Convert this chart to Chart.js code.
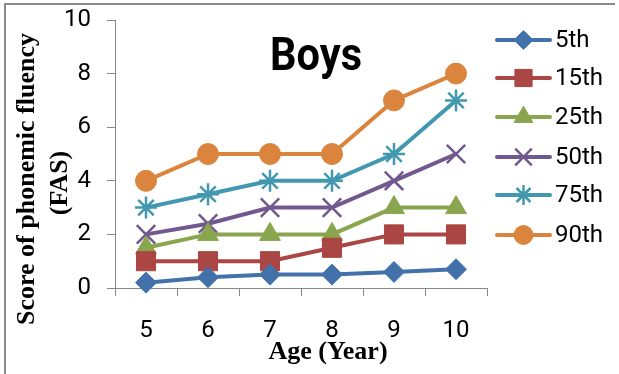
<!DOCTYPE html>
<html>
<head>
<meta charset="utf-8">
<script src="https://cdn.jsdelivr.net/npm/chart.js@4/dist/chart.umd.min.js"></script>
<style>
  html, body { margin: 0; padding: 0; background: #fff; }
  #wrap { width: 619px; height: 374px; position: relative; }
</style>
</head>
<body>
<div id="wrap"><canvas id="c" width="619" height="374"></canvas></div>
<script>
// Age groups on the x axis
const ages = ['5', '6', '7', '8', '9', '10'];
// FAS score percentiles per age
const p5  = [0.2, 0.4, 0.5, 0.5, 0.6, 0.7];
const p15 = [1, 1, 1, 1.5, 2, 2];
const p25 = [1.5, 2, 2, 2, 3, 3];
const p50 = [2, 2.4, 3, 3, 4, 5];
const p75 = [3, 3.5, 4, 4, 5, 7];
const p90 = [4, 5, 5, 5, 7, 8];
const seriesNames = ['5th', '15th', '25th', '50th', '75th', '90th'];
const yTicks = [0, 2, 4, 6, 8, 10];

const colors = ['#4372AA', '#AA4643', '#89A54E', '#71588F', '#4198AF', '#DB843D'];
const styles = ['rectRot', 'rect', 'triangle', 'crossRot', 'star', 'circle'];
const radii  = [10.5, 13.5, 12, 13, 11, 10.5];
const values = [p5, p15, p25, p50, p75, p90];

const datasets = values.map((v, i) => ({
  label: seriesNames[i],
  data: v,
  borderColor: colors[i],
  backgroundColor: colors[i],
  borderWidth: 4,
  pointStyle: styles[i],
  pointRadius: radii[i],
  pointHoverRadius: radii[i],
  pointBorderWidth: (styles[i] === 'crossRot' || styles[i] === 'star') ? 2.5 : 1,
  pointBackgroundColor: colors[i],
  pointBorderColor: colors[i],
  tension: 0,
  clip: false
}));

const TICK_FONT = { family: 'Roboto, "Liberation Sans", sans-serif', size: 24 };
const AXIS_COLOR = '#878787';

// Frame, axis titles, chart heading and the line-style legend
const decorations = {
  id: 'decorations',
  afterDraw(chart) {
    const ctx = chart.ctx;
    ctx.save();

    // outer frame (top and left edges)
    ctx.strokeStyle = '#8c8c8c';
    ctx.lineWidth = 2;
    ctx.beginPath();
    ctx.moveTo(5, 374);
    ctx.lineTo(5, 4);
    ctx.lineTo(615, 4);
    ctx.stroke();

    // heading
    ctx.fillStyle = '#000';
    ctx.font = 'bold 46px Roboto, "Liberation Sans", sans-serif';
    ctx.textAlign = 'center';
    ctx.textBaseline = 'alphabetic';
    ctx.fillText('Boys', 316, 70, 92);

    // axis titles
    ctx.font = 'bold 26px "Liberation Serif", "Times New Roman", serif';
    ctx.textBaseline = 'middle';
    ctx.fillText('Age (Year)', 328, 352);
    ctx.save();
    ctx.translate(27, 179);
    ctx.rotate(-Math.PI / 2);
    ctx.fillText('Score of phonemic fluency', 0, 0);
    ctx.restore();
    ctx.save();
    ctx.translate(60, 183);
    ctx.rotate(-Math.PI / 2);
    ctx.fillText('(FAS)', 0, 0);
    ctx.restore();

    // legend
    const x0 = 497, x1 = 550, textX = 555;
    const rowY = [40, 78, 117, 157, 195, 235];
    chart.data.datasets.forEach((ds, i) => {
      const y = rowY[i];
      ctx.strokeStyle = ds.borderColor;
      ctx.lineWidth = 4;
      ctx.lineCap = 'round';
      ctx.beginPath();
      ctx.moveTo(x0, y);
      ctx.lineTo(x1, y);
      ctx.stroke();
      ctx.lineCap = 'butt';
      ctx.fillStyle = ds.pointBackgroundColor;
      ctx.strokeStyle = ds.pointBorderColor;
      ctx.lineWidth = ds.pointBorderWidth;
      Chart.helpers.drawPoint(ctx, {
        pointStyle: ds.pointStyle,
        radius: ds.pointRadius * 0.9,
        rotation: 0,
        borderWidth: ds.pointBorderWidth
      }, (x0 + x1) / 2, y);
      ctx.fillStyle = '#000';
      ctx.font = '24px ' + TICK_FONT.family;
      ctx.textAlign = 'left';
      ctx.textBaseline = 'middle';
      ctx.fillText(ds.label, textX, y + 1);
    });
    ctx.restore();
  }
};

new Chart(document.getElementById('c'), {
  type: 'line',
  data: { labels: ages, datasets },
  options: {
    responsive: false,
    animation: false,
    events: [],
    layout: { padding: { top: 20, right: 132, left: 0, bottom: 0 } },
    plugins: { legend: { display: false }, tooltip: { enabled: false }, title: { display: false } },
    scales: {
      x: {
        type: 'category',
        offset: true,
        grid: { display: true, drawOnChartArea: false, drawTicks: true, tickLength: 8, color: AXIS_COLOR, offset: true },
        border: { display: true, color: AXIS_COLOR, width: 1 },
        ticks: { color: '#000', font: TICK_FONT, padding: 21, maxRotation: 0 },
        afterFit(scale) {
          scale.height = 86;
          scale.paddingLeft = 0;
          scale.paddingRight = 0;
        }
      },
      y: {
        min: 0,
        max: 10,
        afterBuildTicks(scale) { scale.ticks = yTicks.map(v => ({ value: v })); },
        grid: { display: true, drawOnChartArea: false, drawTicks: true, tickLength: 8, color: AXIS_COLOR },
        border: { display: true, color: AXIS_COLOR, width: 1 },
        ticks: { color: '#000', font: TICK_FONT, padding: 16 },
        afterFit(scale) {
          scale.width = 115;
          scale.paddingTop = 0;
          scale.paddingBottom = 0;
        }
      }
    }
  },
  plugins: [decorations]
});
</script>
</body>
</html>
